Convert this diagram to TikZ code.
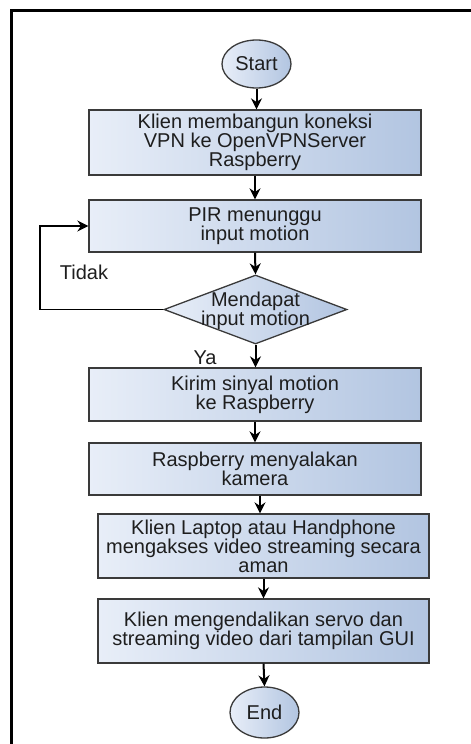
\documentclass[tikz,border=0pt]{standalone}
\usepackage{fontspec}
\setmainfont{Liberation Sans}
\usetikzlibrary{shapes.geometric,arrows.meta}
\definecolor{gl}{HTML}{E8EEF8}
\definecolor{gr}{HTML}{B2C5E1}
\definecolor{bd}{HTML}{3A3A3A}
\definecolor{tx}{HTML}{1E1E1E}
\begin{document}
\begin{tikzpicture}[x=0.5pt,y=-0.5pt,
  every node/.style={font=\fontsize{10pt}{9.5pt}\selectfont, text=tx, align=center},
  procbox/.style={draw=bd, line width=0.65pt, rectangle, left color=gl, right color=gr, inner sep=0pt},
  termnode/.style={draw=bd, line width=0.65pt, ellipse, left color=gl, right color=gr, inner sep=0pt, minimum width=34.5pt},
  decnode/.style={draw=bd, line width=0.65pt, diamond, left color=gl, right color=gr, inner sep=0pt, minimum width=91.5pt, minimum height=34.5pt},
  flow/.style={draw=black, line width=1pt, -{Stealth[length=5.5pt,width=5.5pt]}},
  loopflow/.style={draw=black, line width=0.7pt, -{Stealth[length=5.5pt,width=5.5pt]}},
  lbl/.style={font=\fontsize{10pt}{10pt}\selectfont}
]
\useasboundingbox (0,0) rectangle (471,744);
% frame
\draw[line width=1.5pt] (11.5,748) -- (11.5,10.5) -- (475,10.5);

\node[termnode, minimum height=24pt] (start) at (256.5,64) {Start};
\node[procbox, minimum width=166pt, minimum height=32.5pt] (b1) at (255,142.5) {Klien membangun koneksi\\VPN ke OpenVPNServer\\Raspberry};
\node[procbox, minimum width=166pt, minimum height=26pt] (b2) at (255,226) {PIR menunggu\\input motion};
\node[decnode] (dec) at (255.5,309.5) {};
\node (dectxt) at (255.5,311) {Mendapat\\input motion};
\node[procbox, minimum width=166pt, minimum height=26.5pt] (b3) at (255,394.5) {Kirim sinyal motion\\ke Raspberry};
\node[procbox, minimum width=166pt, minimum height=26pt] (b4) at (255,469) {Raspberry menyalakan\\kamera};
\node[procbox, minimum width=165.5pt, minimum height=32pt] (b5) at (263.5,546) {Klien Laptop atau Handphone\\mengakses video streaming secara\\aman};
\node[procbox, minimum width=165.5pt, minimum height=32pt] (b6) at (263.5,631) {Klien mengendalikan servo dan\\streaming video dari tampilan GUI};
\node[termnode, minimum height=25.5pt] (end) at (264.5,712.5) {End};

\coordinate (lp) at (40,0);
\node[lbl] (tidak) at (84,272) {Tidak};
\node[lbl] (ya) at (205,358) {Ya};

\draw[flow] (start.south) -- (start.south |- b1.north);
\draw[flow] (b1.south) -- (b2.north);
\draw[flow] (b2.south) -- (dec.north);
\draw[flow] (dec.south) -- (dec.south |- b3.north);
\draw[flow] (b3.south) -- (b4.north);
\draw[flow] (b4.south -| 260,0) -- (b5.north -| 260,0);
\draw[flow] (b5.south) -- (b6.north);
\draw[flow] (b6.south) -- (end.north);
\draw[loopflow] (dec.west) -- (dec.west -| lp) |- (b2.west);
\end{tikzpicture}
\end{document}
